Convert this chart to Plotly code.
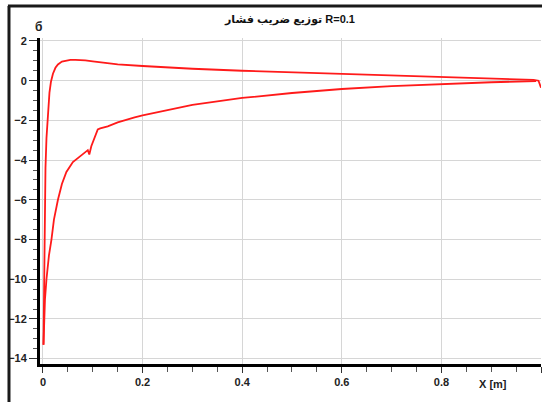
import plotly.graph_objects as go

# ---- data ----
x_upper = [0.001, 0.002, 0.003, 0.004, 0.005, 0.007, 0.010, 0.013, 0.016, 0.020, 0.025,
           0.030, 0.038, 0.046, 0.055, 0.065, 0.075, 0.085, 0.100, 0.120, 0.150, 0.200,
           0.300, 0.400, 0.500, 0.600, 0.700, 0.800, 0.900, 0.950, 0.985, 0.995, 1.000]
cp_upper = [-13.3, -10.5, -7.6, -5.6, -4.4, -2.9, -1.6, -0.6, -0.05, 0.35, 0.65,
            0.82, 0.96, 1.02, 1.05, 1.05, 1.04, 1.02, 0.97, 0.90, 0.82, 0.74,
            0.60, 0.50, 0.42, 0.34, 0.26, 0.20, 0.13, 0.09, 0.04, 0.0, -0.35]

x_lower = [0.001, 0.002, 0.004, 0.007, 0.012, 0.017, 0.022, 0.030, 0.038, 0.047, 0.060,
           0.075, 0.085, 0.090, 0.093, 0.097, 0.110, 0.115, 0.130, 0.150, 0.184, 0.200,
           0.300, 0.400, 0.500, 0.600, 0.700, 0.800, 0.900, 0.990]
cp_lower = [-13.3, -12.3, -11.0, -10.0, -8.8, -8.0, -7.0, -6.0, -5.2, -4.6, -4.1,
            -3.8, -3.6, -3.5, -3.72, -3.3, -2.45, -2.4, -2.3, -2.1, -1.85, -1.75,
            -1.22, -0.87, -0.62, -0.42, -0.27, -0.17, -0.08, -0.02]

title_text = "توزیع ضریب فشار R=0.1"
y_label = "б"
x_label = "X [m]"
x_ticks = [0, 0.2, 0.4, 0.6, 0.8, 1]
y_ticks = [-14, -12, -10, -8, -6, -4, -2, 0, 2]

RED = "#ff1a1a"
FONT = "Liberation Sans, DejaVu Sans, Arial, sans-serif"

fig = go.Figure()
fig.add_trace(go.Scatter(x=x_upper, y=cp_upper, mode="lines",
                         line=dict(color=RED, width=1.8), showlegend=False))
fig.add_trace(go.Scatter(x=x_lower, y=cp_lower, mode="lines",
                         line=dict(color=RED, width=1.8), showlegend=False))

tickfont = dict(family=FONT, size=11, color="#222222", weight="bold")

fig.update_xaxes(range=[-0.006, 1.0], tickvals=x_ticks, ticktext=["0", "0.2", "0.4", "0.6", "0.8", "1"],
                 showgrid=True, gridcolor="#d6d6d6", gridwidth=1,
                 showline=True, linecolor="black", linewidth=3, zeroline=False,
                 ticks="outside", ticklen=6, tickcolor="#333333", tickwidth=1,
                 minor=dict(dtick=0.05, tick0=0, ticks="outside", ticklen=5, tickcolor="#555555", showgrid=False),
                 tickfont=tickfont)
fig.update_yaxes(range=[-14.27, 2.15], tickvals=y_ticks,
                 showgrid=True, gridcolor="#d6d6d6", gridwidth=1,
                 showline=True, linecolor="black", linewidth=3, zeroline=False,
                 ticks="outside", ticklen=8, tickcolor="#333333", tickwidth=1,
                 minor=dict(dtick=0.5, tick0=0, ticks="outside", ticklen=4, tickcolor="#555555", showgrid=False),
                 tickfont=tickfont)

fig.update_layout(
    width=542, height=402,
    margin=dict(l=40, r=1, t=38, b=38),
    paper_bgcolor="white", plot_bgcolor="white",
    title=dict(text=title_text, x=0.535, xanchor="center", y=1 - 19 / 402, yanchor="middle",
               yref="container", xref="container",
               font=dict(family=FONT, size=11, color="#111111", weight="bold")),
    annotations=[
        dict(text=x_label, xref="paper", yref="paper", x=0.936, y=-0.086,
             showarrow=False, font=dict(family=FONT, size=11, color="#222222", weight="bold")),
        dict(text=y_label, xref="paper", yref="paper", x=-0.014, y=1.061,
             showarrow=False, font=dict(family=FONT, size=12, color="#222222", weight="bold")),
    ],
    shapes=[
        dict(type="line", xref="paper", yref="paper", x0=-0.0619, x1=-0.0619, y0=1.0982, y1=-0.12,
             line=dict(color="#1a1a1a", width=3)),
        dict(type="line", xref="paper", yref="paper", x0=-0.064, x1=1.01, y0=1.0982, y1=1.0982,
             line=dict(color="#1a1a1a", width=3)),
    ],
)

fig.write_html("out.html")
